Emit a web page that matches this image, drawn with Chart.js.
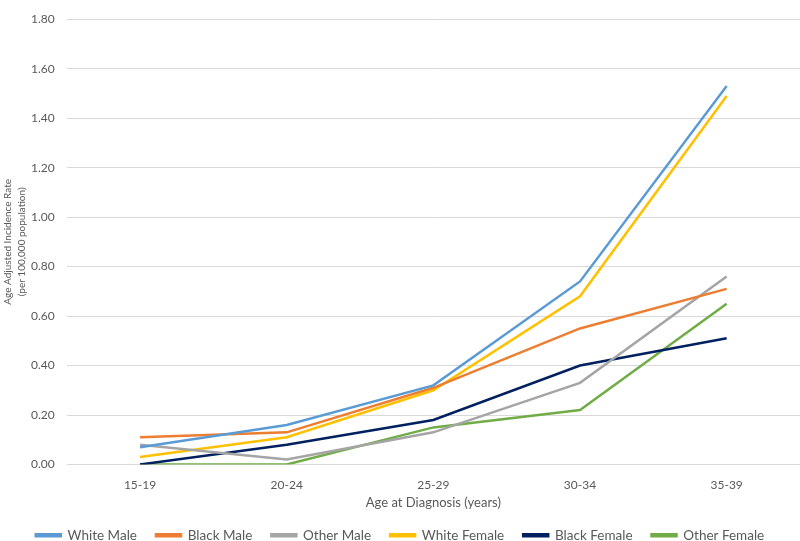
<!DOCTYPE html>
<html>
<head>
<meta charset="utf-8">
<script src="https://cdn.jsdelivr.net/npm/chart.js@4"></script>
<style>
  html, body { margin: 0; padding: 0; background: #fff; }
  #wrap { width: 800px; height: 541px; }
</style>
</head>
<body>
<div id="wrap"><canvas id="chart" width="800" height="541"></canvas></div>
<script>
const ageGroups = ['15-19', '20-24', '25-29', '30-34', '35-39'];

const whiteMale = [0.07, 0.16, 0.32, 0.74, 1.53];
const blackMale = [0.11, 0.13, 0.31, 0.55, 0.71];
const otherMale = [0.08, 0.02, 0.13, 0.33, 0.76];
const whiteFemale = [0.03, 0.11, 0.30, 0.68, 1.49];
const blackFemale = [0.00, 0.08, 0.18, 0.40, 0.51];
const otherFemale = [0.00, 0.00, 0.15, 0.22, 0.65];

const FONT = "Lato, sans-serif";
const TEXT = '#595959';

function series(label, data, color) {
    return {
        label,
        data,
        borderColor: color,
        backgroundColor: color,
        borderWidth: 2.5,
        pointRadius: 0,
        pointHoverRadius: 0,
        tension: 0,
        fill: false
    };
}

new Chart(document.getElementById('chart'), {
    type: 'line',
    data: {
        labels: ageGroups,
        datasets: [
            series('White Male', whiteMale, '#5B9BD5'),
            series('Black Male', blackMale, '#ED7D31'),
            series('Other Male', otherMale, '#A5A5A5'),
            series('White Female', whiteFemale, '#FFC000'),
            series('Black Female', blackFemale, '#002060'),
            series('Other Female', otherFemale, '#70AD47')
        ]
    },
    options: {
        responsive: false,
        animation: false,
        // negative bottom padding: the legend keeps its space below the labels
        layout: { padding: { top: 15, right: 0, left: 0, bottom: -11 } },
        plugins: {
            tooltip: { enabled: false },
            legend: {
                position: 'bottom',
                labels: {
                    color: TEXT,
                    font: { family: FONT, size: 13.5 },
                    boxWidth: 25,
                    boxHeight: 2,
                    padding: 19
                }
            }
        },
        scales: {
            x: {
                offset: true,
                grid: { display: false, drawTicks: false },
                border: { display: false },
                ticks: { color: TEXT, font: { family: FONT, size: 12 }, padding: 13 },
                title: {
                    display: true,
                    text: 'Age at Diagnosis (years)',
                    color: TEXT,
                    font: { family: FONT, size: 13 },
                    padding: { top: -10, bottom: -1 }
                }
            },
            y: {
                min: 0,
                max: 1.8,
                ticks: {
                    stepSize: 0.2,
                    color: TEXT,
                    font: { family: FONT, size: 12 },
                    padding: 12,
                    callback: v => v.toFixed(2)
                },
                grid: { color: '#D9D9D9', lineWidth: 1, drawTicks: false },
                border: { display: false },
                title: {
                    display: true,
                    text: ['Age Adjusted Incidence Rate', '(per 100,000 population)'],
                    color: TEXT,
                    font: { family: FONT, size: 10, lineHeight: 1.4 },
                    padding: { top: 1, bottom: -10 }
                }
            }
        }
    }
});
</script>
</body>
</html>
